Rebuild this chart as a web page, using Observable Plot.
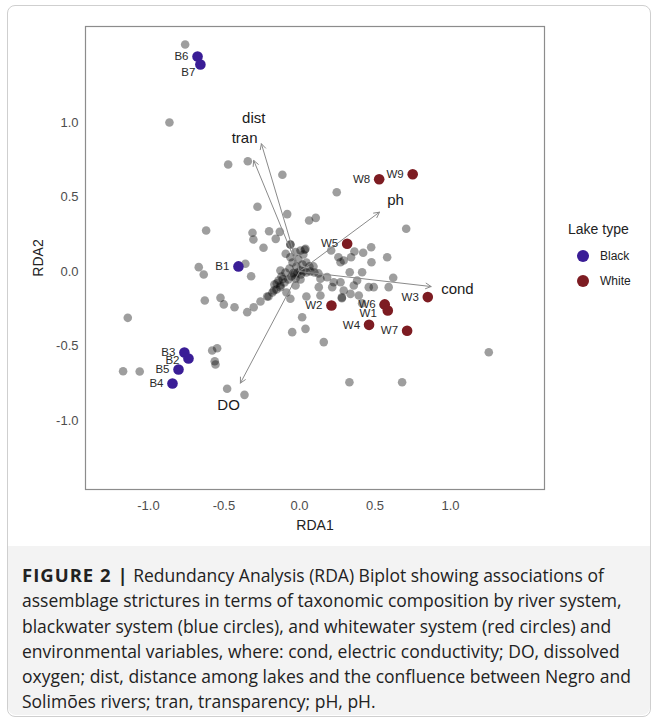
<!DOCTYPE html>
<html>
<head>
<meta charset="utf-8">
<script src="https://cdn.jsdelivr.net/npm/d3@7"></script>
<script src="https://cdn.jsdelivr.net/npm/@observablehq/plot@0.6"></script>
<style>
  body { margin: 0; background: #fff; }
  #fig { position: relative; width: 659px; height: 722px; overflow: hidden; font-family: "Liberation Sans", Arial, sans-serif; }
  #border { position: absolute; left: 7px; top: 5px; width: 642px; height: 710px; border: 1px solid #cfcfcf; border-radius: 8px; }
  #plot { position: absolute; left: 0; top: 0; }
  #legend { position: absolute; left: 568px; top: 221px; font-family: "Liberation Sans", Arial, sans-serif; color: #222; }
  #legend .title { font-size: 14px; margin-bottom: 6px; }
  #legend .item { display: flex; align-items: center; font-size: 12px; height: 25px; }
  #legend .sw { width: 12px; height: 12px; border-radius: 50%; margin-left: 9px; margin-right: 11px; }
  #caption { position: absolute; left: 8px; top: 546px; width: 642px; height: 169px; background: #f3f3f3; border-radius: 0 0 8px 8px; box-sizing: border-box; padding: 16px 14px 0 14px; font-family: "Open Sans", "Liberation Sans", sans-serif; font-size: 17.5px; line-height: 25.3px; color: #222; white-space: nowrap; }
  #caption b { letter-spacing: 1px; font-size: 18.5px; }
  #plot svg [aria-label="x-axis label"] text, #plot svg [aria-label="y-axis label"] text { fill: #222; font-size: 14px; }
</style>
</head>
<body>
<div id="fig">
  <div id="border"></div>
  <div id="plot"></div>
  <div id="legend"></div>
  <div id="caption"></div>
</div>
<script>
// ---- data ----
const lakeTypes = ["Black", "White"];
const lakeColors = ["#3a1d96", "#7d1c22"];

const siteNames = ["B6","B7","B1","B3","B2","B5","B4","W8","W9","W5","W3","W2","W6","W1","W4","W7"];
const siteType  = ["Black","Black","Black","Black","Black","Black","Black","White","White","White","White","White","White","White","White","White"];
const siteRDA1  = [-0.675,-0.656,-0.404,-0.762,-0.735,-0.801,-0.841, 0.528, 0.750, 0.316, 0.850, 0.212, 0.565, 0.585, 0.461, 0.713];
const siteRDA2  = [ 1.443, 1.389, 0.034,-0.544,-0.584,-0.658,-0.752, 0.619, 0.653, 0.186,-0.172,-0.228,-0.221,-0.262,-0.358,-0.398];

const envNames = ["dist","tran","ph","cond","DO"];
const envRDA1  = [-0.252,-0.303, 0.530, 0.872,-0.391];
const envRDA2  = [ 0.857, 0.745, 0.398,-0.101,-0.749];

// species / sample scores (grey points)
const ptRDA1 = [-0.757,-0.861,-0.472,-0.342,-0.113,0.247,-0.278,-0.081,0.064,0.108,-0.618,-0.311,-0.305,-0.201,-0.130,-0.157,-0.238,-0.060,-0.060,-0.091,0.035,0.210,0.258,0.364,0.422,0.475,-0.667,-0.358,-0.634,-0.320,-0.126,-0.627,-0.523,-0.501,-0.430,-0.346,-0.303,-0.258,-0.214,-0.170,-0.126,-0.060,0.018,0.707,0.342,0.293,0.272,0.581,0.477,0.415,0.333,0.621,0.591,0.139,0.183,0.227,0.128,0.217,0.272,0.293,0.360,0.338,0.393,0.382,0.459,0.492,0.281,0.281,0.415,0.161,-0.048,0.040,1.254,0.558,0.558,0.331,-0.364,0.680,-1.137,-1.168,-1.058,-0.578,-0.545,-0.561,-0.556,-0.479,-0.205,-0.179,-0.152,-0.126,-0.099,-0.073,-0.053,-0.033,-0.013,0.007,0.026,0.046,0.073,0.099,0.126,-0.020,0.020,-0.046,-0.007,0.046,-0.066,-0.093,-0.119,-0.139,-0.166,0.066,0.093,-0.026,0.007,-0.086,-0.026,-0.060,-0.026,0.007,0.040,0.026,0.139,0.046,-0.040,0.010,-0.110,-0.150];
const ptRDA2 = [1.523,1.000,0.718,0.740,0.649,0.532,0.434,0.385,0.342,0.360,0.275,0.260,0.215,0.270,0.266,0.219,0.159,0.181,0.181,0.119,0.146,0.141,0.096,0.134,0.126,0.163,0.029,0.052,-0.020,-0.032,0.007,-0.195,-0.177,-0.221,-0.240,-0.273,-0.240,-0.201,-0.168,-0.128,-0.105,-0.183,-0.307,0.287,0.096,0.074,0.062,0.096,0.062,-0.005,-0.005,-0.042,-0.105,-0.049,-0.038,-0.072,-0.105,-0.105,-0.072,-0.128,-0.094,-0.150,-0.161,-0.060,-0.105,-0.105,-0.174,-0.180,-0.213,-0.474,-0.407,-0.385,-0.542,-0.221,-0.225,-0.743,-0.828,-0.743,-0.311,-0.669,-0.671,-0.530,-0.515,-0.602,-0.624,-0.787,-0.168,-0.141,-0.121,-0.094,-0.074,-0.054,-0.034,-0.020,-0.007,0.007,0.000,-0.007,0.000,-0.007,-0.013,0.034,0.047,0.060,0.081,0.060,0.020,-0.007,-0.034,-0.060,-0.087,0.034,0.034,-0.047,-0.054,-0.141,-0.094,0.096,0.130,0.141,0.152,0.114,-0.161,-0.168,-0.010,-0.020,-0.050,-0.080];

const xTicks = [-1, -0.5, 0, 0.5, 1];
const yTicks = [-1, -0.5, 0, 0.5, 1];

// ---- tables ----
const sites = siteNames.map((s, i) => ({site: s, type: siteType[i], x: siteRDA1[i], y: siteRDA2[i]}));
const env = envNames.map((n, i) => ({name: n, x: envRDA1[i], y: envRDA2[i]}));
const pts = ptRDA1.map((x, i) => ({x, y: ptRDA2[i]}));

const chart = Plot.plot({
  width: 560,
  height: 545,
  marginLeft: 85,
  marginRight: 16,
  marginTop: 26,
  marginBottom: 56,
  style: {fontFamily: "'Liberation Sans', Arial, sans-serif", fontSize: "13px", color: "#4d4d4d", background: "transparent"},
  x: {domain: [-1.417, 1.623], ticks: xTicks, tickFormat: d => d.toFixed(1), tickSize: 0, tickPadding: 11, label: "RDA1", labelAnchor: "center", labelArrow: "none", labelOffset: 40},
  y: {domain: [-1.463, 1.644], ticks: yTicks, tickFormat: d => d.toFixed(1), tickSize: 0, tickPadding: 7, label: "RDA2", labelAnchor: "center", labelArrow: "none", labelOffset: 52},
  color: {domain: lakeTypes, range: lakeColors},
  marks: [
    Plot.frame({stroke: "#8c8c8c", strokeWidth: 1.2}),
    Plot.dot(pts, {x: "x", y: "y", r: 4.3, fill: "black", fillOpacity: 0.38, stroke: "none"}),
    Plot.arrow(env, {x1: () => 0, y1: () => 0, x2: "x", y2: "y", stroke: "#8a8a8a", strokeWidth: 1, headLength: 9, headAngle: 55}),
    Plot.text(env, {x: d => d.x * 1.2, y: d => d.y * 1.2, text: "name", fontSize: 15, fill: "#1a1a1a", textAnchor: "middle"}),
    Plot.dot(sites, {x: "x", y: "y", r: 5.3, fill: {value: d => d.type, scale: "color"}, stroke: "none"}),
    Plot.text(sites, {x: "x", y: "y", text: "site", textAnchor: "end", dx: -9, fontSize: 11.5, fill: "#2a2a2a"}),
  ]
});
document.getElementById("plot").appendChild(chart);
// per-label nudges of overlapping labels (as in the reference)
chart.querySelectorAll("text").forEach(t => {
  if (t.textContent === "B7") t.setAttribute("transform", (t.getAttribute("transform") || "") + " translate(4,8)");
  if (t.textContent === "W1") t.setAttribute("transform", (t.getAttribute("transform") || "") + " translate(-2,3)");
  if (t.textContent === "B2") t.setAttribute("transform", (t.getAttribute("transform") || "") + " translate(0,2)");
});

// legend
const lg = d3.select("#legend");
lg.append("div").attr("class", "title").text("Lake type");
lakeTypes.forEach((t, i) => {
  const it = lg.append("div").attr("class", "item");
  it.append("div").attr("class", "sw").style("background", lakeColors[i]);
  it.append("span").text(t);
});

// caption
document.getElementById("caption").innerHTML =
  "<b>FIGURE 2 |</b> Redundancy Analysis (RDA) Biplot showing associations of<br>" +
  "assemblage strictures in terms of taxonomic composition by river system,<br>" +
  "blackwater system (blue circles), and whitewater system (red circles) and<br>" +
  "environmental variables, where: cond, electric conductivity; DO, dissolved<br>" +
  "oxygen; dist, distance among lakes and the confluence between Negro and<br>" +
  "Solimões rivers; tran, transparency; pH, pH.";
</script>
</body>
</html>
